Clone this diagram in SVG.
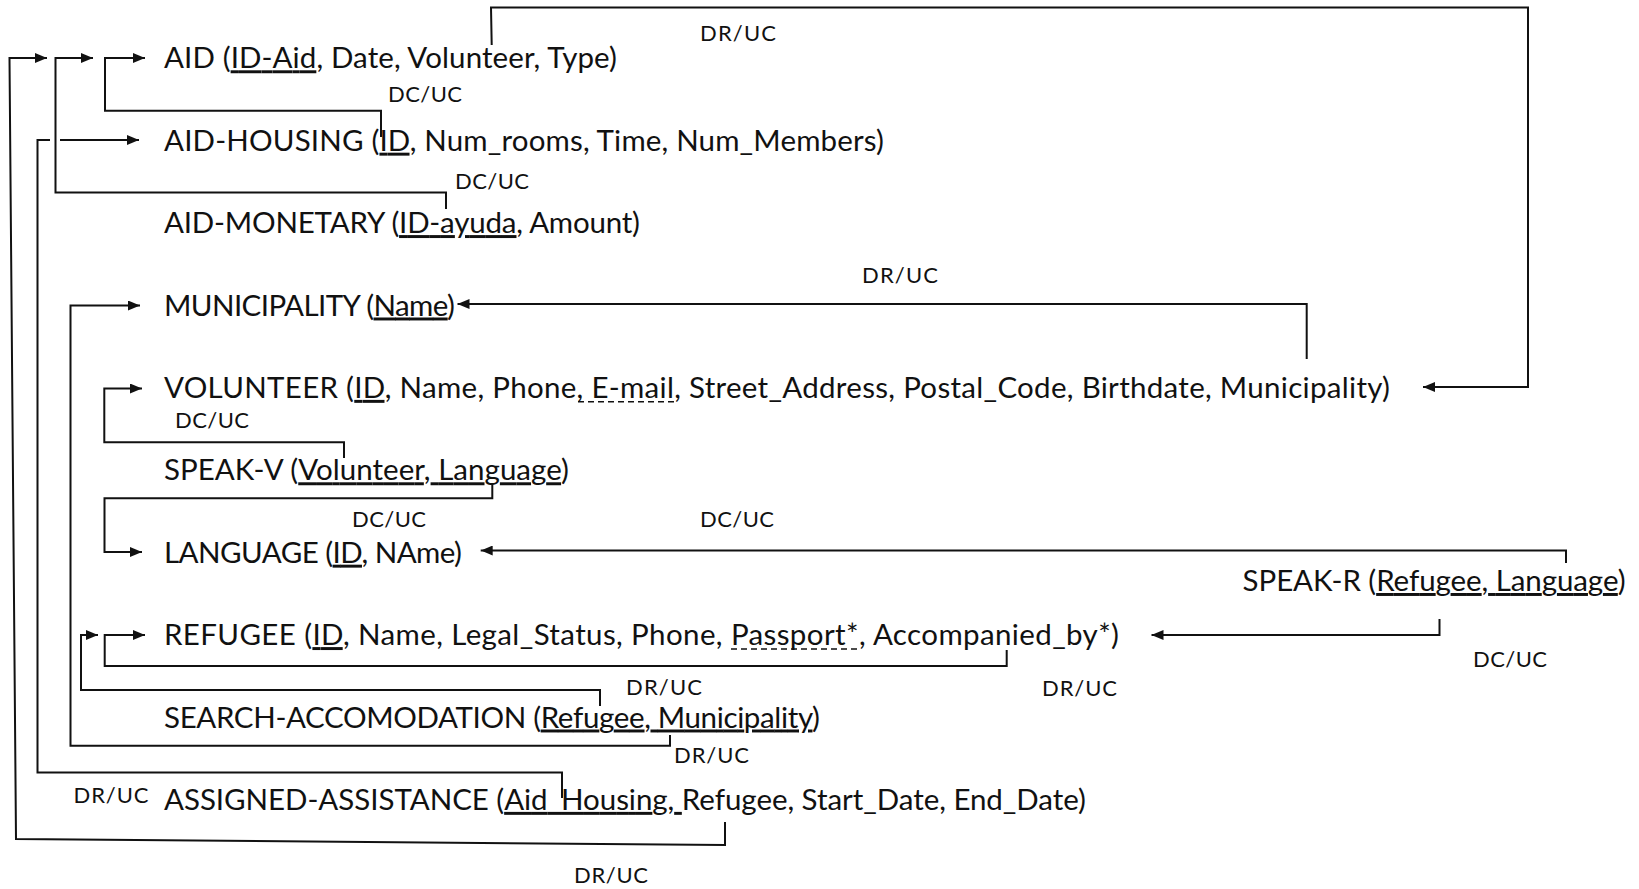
<svg xmlns="http://www.w3.org/2000/svg" width="1639" height="889" viewBox="0 0 1639 889">
<style>
  .t { font-family: Lato, "Open Sans", "Liberation Sans", sans-serif; font-size: 29.5px; fill: #111; }
  .lb { font-family: Lato, "Open Sans", "Liberation Sans", sans-serif; font-size: 22px; fill: #111; }
  .c { fill: none; stroke: #111; stroke-width: 2; stroke-linejoin: miter; }
  .ca { fill: none; stroke: #111; stroke-width: 2; marker-end: url(#ah); }
  .k { text-decoration: underline; }
  .ud { stroke: #111; stroke-width: 1.6; stroke-dasharray: 6 4; }
</style>
<defs>
  <marker id="ah" viewBox="0 0 12 10" refX="12" refY="5" markerWidth="12" markerHeight="10" markerUnits="userSpaceOnUse" orient="auto">
    <path d="M0,0 L12,5 L0,10 z" fill="#111"/>
  </marker>
</defs>
<rect width="1639" height="889" fill="#fff"/>

<g id="connectors">
  <path class="ca" d="M491.7,45 L491,7.5 L1528,7.5 L1528,387 L1423,387"/>
  <text class="lb" x="700" y="41" textLength="76">DR/UC</text>
  <path class="ca" d="M725,822 L725,845 L16,839 L9.5,58 L47,58"/>
  <text class="lb" x="574" y="883" textLength="74">DR/UC</text>
  <path class="ca" d="M446,209 L446,192.5 L55.5,192.5 L55.5,58 L93,58"/>
  <text class="lb" x="455" y="188.5" textLength="74">DC/UC</text>
  <path class="ca" d="M381,137 L381,110.7 L105,110.7 L105,58 L145,58"/>
  <text class="lb" x="388" y="101.5" textLength="74">DC/UC</text>
  <path class="c" d="M562,798 L562,772.5 L37.5,772.5 L37.5,140 L50,140"/>
  <path class="ca" d="M60,140 L139,140"/>
  <text class="lb" x="73.5" y="803" textLength="75">DR/UC</text>
  <path class="ca" d="M670,735 L670,745.7 L70.5,745.7 L70.5,305.5 L140,305.5"/>
  <text class="lb" x="674" y="763" textLength="75">DR/UC</text>
  <path class="ca" d="M1306.7,359 L1306.7,304 L457.5,304"/>
  <text class="lb" x="862" y="283" textLength="76">DR/UC</text>
  <path class="ca" d="M344,458 L344,442.3 L104.3,442.3 L104.3,388.5 L142,388.5"/>
  <text class="lb" x="175" y="428" textLength="74">DC/UC</text>
  <path class="ca" d="M492.3,483.3 L492.3,498.3 L104.5,498.3 L104.5,552 L142,552"/>
  <text class="lb" x="352" y="526.7" textLength="74">DC/UC</text>
  <path class="ca" d="M1566,563 L1566,550.5 L480.7,550.5"/>
  <text class="lb" x="700" y="526.7" textLength="74">DC/UC</text>
  <path class="ca" d="M1439.5,619 L1439.5,635 L1151.5,635"/>
  <text class="lb" x="1473" y="666.7" textLength="74">DC/UC</text>
  <path class="ca" d="M1006.7,650 L1006.7,666 L104.7,666 L104.7,635 L145,635"/>
  <text class="lb" x="1042" y="696" textLength="75">DR/UC</text>
  <path class="ca" d="M600,706 L600,690 L81,690 L81,635 L98,635"/>
  <text class="lb" x="626" y="695" textLength="76">DR/UC</text>
</g>

<g id="aid">
  <text class="t" x="164" y="68.3" textLength="453">AID (<tspan class="k">ID-Aid</tspan>, Date, Volunteer, Type)</text>
</g>
<g id="aid-housing">
  <text class="t" x="164" y="150.7" textLength="720">AID-HOUSING (<tspan class="k">ID</tspan>, Num_rooms, Time, Num_Members)</text>
</g>
<g id="aid-monetary">
  <text class="t" x="164" y="233.1" textLength="476">AID-MONETARY (<tspan class="k">ID-ayuda</tspan>, Amount)</text>
</g>
<g id="municipality">
  <text class="t" x="164" y="315.5" textLength="291">MUNICIPALITY (<tspan class="k">Name</tspan>)</text>
</g>
<g id="volunteer">
  <text class="t" x="164" y="397.9" textLength="1226">VOLUNTEER (<tspan class="k">ID</tspan>, Name, Phone, E-mail, Street_Address, Postal_Code, Birthdate, Municipality)</text>
  <line class="ud" x1="578" y1="401.8" x2="674" y2="401.8"/>
</g>
<g id="speak-v">
  <text class="t" x="164" y="480.3" textLength="405">SPEAK-V (<tspan class="k">Volunteer, Language</tspan>)</text>
</g>
<g id="language">
  <text class="t" x="164" y="562.7" textLength="298">LANGUAGE (<tspan class="k">ID</tspan>, NAme)</text>
</g>
<g id="speak-r">
  <text class="t" x="1242.6" y="591" textLength="383">SPEAK-R (<tspan class="k">Refugee, Language</tspan>)</text>
</g>
<g id="refugee">
  <text class="t" x="164" y="645.1" textLength="955">REFUGEE (<tspan class="k">ID</tspan>, Name, Legal_Status, Phone, Passport*, Accompanied_by*)</text>
  <line class="ud" x1="731" y1="649" x2="858" y2="649"/>
</g>
<g id="search-accomodation">
  <text class="t" x="164" y="727.5" textLength="656">SEARCH-ACCOMODATION (<tspan class="k">Refugee, Municipality</tspan>)</text>
</g>
<g id="assigned-assistance">
  <text class="t" x="164" y="809.9" textLength="922">ASSIGNED-ASSISTANCE (<tspan class="k">Aid_Housing, </tspan>Refugee, Start_Date, End_Date)</text>
</g>
</svg>
